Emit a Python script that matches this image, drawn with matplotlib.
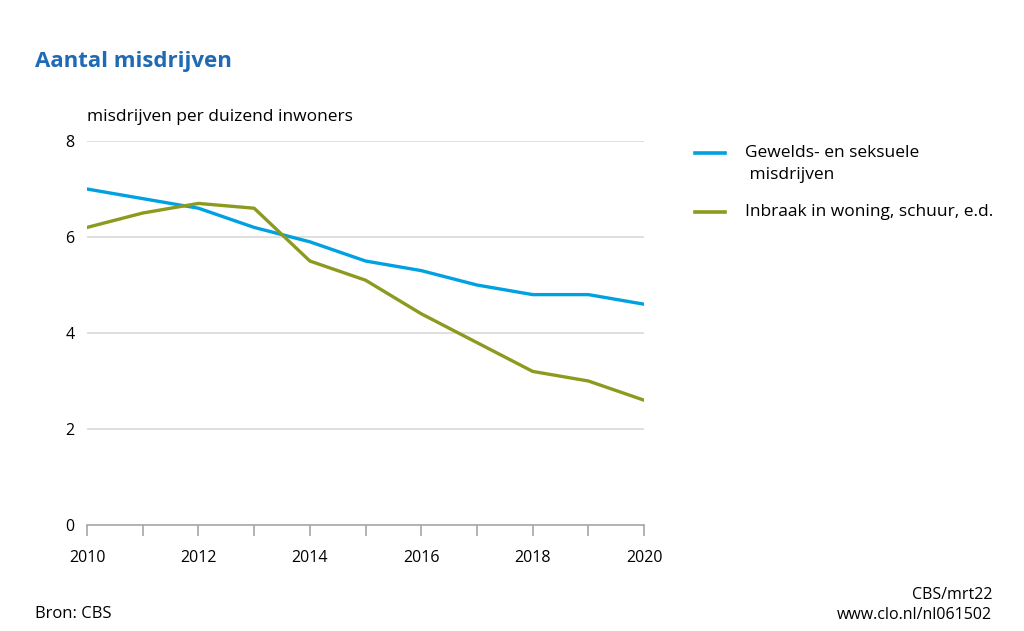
import matplotlib.pyplot as plt
from matplotlib.lines import Line2D

years = [2010, 2011, 2012, 2013, 2014, 2015, 2016, 2017, 2018, 2019, 2020]
geweld = [7.0, 6.8, 6.6, 6.2, 5.9, 5.5, 5.3, 5.0, 4.8, 4.8, 4.6]
inbraak = [6.2, 6.5, 6.7, 6.6, 5.5, 5.1, 4.4, 3.8, 3.2, 3.0, 2.6]
labels = ["Gewelds- en seksuele\n misdrijven", "Inbraak in woning, schuur, e.d."]
colors = ['#00a1e1', '#8c9a1f']
yticks = [0, 2, 4, 6, 8]
xticks = [2010, 2012, 2014, 2016, 2018, 2020]

plt.rcParams['font.family'] = ['Open Sans', 'DejaVu Sans']

fig = plt.figure(figsize=(10.24, 6.31), dpi=100)
ax = fig.add_axes([0.085, 0.168, 0.544, 0.6085])

ax.plot(years, geweld, c=colors[0], lw=2.4)
ax.plot(years, inbraak, c=colors[1], lw=2.4)

ax.set_xlim(2010, 2020)
ax.set_ylim(0, 8)
ax.set_yticks(yticks)
ax.set_xticks(years)
ax.set_xticklabels([str(y) if y in xticks else '' for y in years])
for y in yticks[1:]:
    ax.axhline(y, color='#d9d9d9', lw=1.2, zorder=0)

for s in ['top', 'right', 'left']:
    ax.spines[s].set_visible(False)
ax.spines['bottom'].set_color('#a6a6a6')
ax.spines['bottom'].set_linewidth(1.2)
ax.tick_params(axis='x', length=8, color='#a6a6a6', width=1.2, labelsize=11.5, pad=10)
ax.tick_params(axis='y', length=0, labelsize=11.5, pad=9)

fig.text(0.034, 0.902, 'Aantal misdrijven', color='#1e6ab4', fontsize=16, fontweight='bold', va='center')
fig.text(0.085, 0.815, 'misdrijven per duizend inwoners', fontsize=12.5, va='center')

# legend, drawn by hand so the line sits at the first text line
leg_y = [0.7575, 0.664]
for c, lab, ly in zip(colors, labels, leg_y):
    fig.add_artist(Line2D([0.679, 0.708], [ly, ly], color=c, lw=2.6, transform=fig.transFigure))
    fig.text(0.7275, ly + 0.012, lab, fontsize=12.5, va='top', linespacing=1.45)

fig.text(0.034, 0.027, 'Bron: CBS', fontsize=12, va='center')
fig.text(0.969, 0.012, 'CBS/mrt22\nwww.clo.nl/nl061502', fontsize=11.5, va='bottom', ha='right',
         linespacing=1.4)

fig.savefig('out.png', dpi=100)
